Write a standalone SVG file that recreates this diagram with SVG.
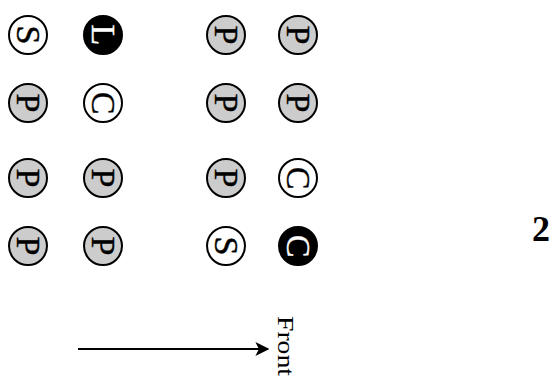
<svg xmlns="http://www.w3.org/2000/svg" width="557" height="378" viewBox="0 0 557 378">
<defs>
<marker id="ah" viewBox="0 0 10 10" refX="9" refY="5" markerWidth="7" markerHeight="7" orient="auto" markerUnits="strokeWidth">
<path d="M0,0 L10,5 L0,10 L2.5,5 z" fill="#000"/>
</marker>
</defs>
<style>
.c{stroke:#000;stroke-width:2}
.g{fill:#cccccc}.w{fill:#fff}.b{fill:#000}
.t{font-family:"Liberation Serif","DejaVu Serif",serif;font-size:34px;text-anchor:middle;dominant-baseline:central;stroke:#000;stroke-width:0.4}
.tw{fill:#fff;stroke:#fff}
.lbl{font-family:"Liberation Serif","DejaVu Serif",serif;font-size:23px}
.num{font-family:"Liberation Serif","DejaVu Serif",serif;font-size:36px;font-weight:bold;text-anchor:middle}
</style>
<rect width="557" height="378" fill="#fff"/>
<g id="r1c1"><circle class="c w" cx="28" cy="35" r="19"/><text class="t" transform="translate(28,35) rotate(90)">S</text></g>
<g id="r1c2"><circle class="c b" cx="103" cy="35" r="19"/><text class="t tw" transform="translate(103,35) rotate(90)">L</text></g>
<g id="r1c3"><circle class="c g" cx="226" cy="35" r="19"/><text class="t" transform="translate(226,35) rotate(90)">P</text></g>
<g id="r1c4"><circle class="c g" cx="298" cy="35" r="19"/><text class="t" transform="translate(298,35) rotate(90)">P</text></g>

<g id="r2c1"><circle class="c g" cx="28" cy="103" r="19"/><text class="t" transform="translate(28,103) rotate(90)">P</text></g>
<g id="r2c2"><circle class="c w" cx="103" cy="103" r="19"/><text class="t" transform="translate(103,103) rotate(90)">C</text></g>
<g id="r2c3"><circle class="c g" cx="226" cy="103" r="19"/><text class="t" transform="translate(226,103) rotate(90)">P</text></g>
<g id="r2c4"><circle class="c g" cx="298" cy="103" r="19"/><text class="t" transform="translate(298,103) rotate(90)">P</text></g>

<g id="r3c1"><circle class="c g" cx="28" cy="178" r="19"/><text class="t" transform="translate(28,178) rotate(90)">P</text></g>
<g id="r3c2"><circle class="c g" cx="103" cy="178" r="19"/><text class="t" transform="translate(103,178) rotate(90)">P</text></g>
<g id="r3c3"><circle class="c g" cx="226" cy="178" r="19"/><text class="t" transform="translate(226,178) rotate(90)">P</text></g>
<g id="r3c4"><circle class="c w" cx="298" cy="178" r="19"/><text class="t" transform="translate(298,178) rotate(90)">C</text></g>

<g id="r4c1"><circle class="c g" cx="28" cy="246" r="19"/><text class="t" transform="translate(28,246) rotate(90)">P</text></g>
<g id="r4c2"><circle class="c g" cx="103" cy="246" r="19"/><text class="t" transform="translate(103,246) rotate(90)">P</text></g>
<g id="r4c3"><circle class="c w" cx="226" cy="246" r="19"/><text class="t" transform="translate(226,246) rotate(90)">S</text></g>
<g id="r4c4"><circle class="c b" cx="298" cy="246" r="19"/><text class="t tw" transform="translate(298,246) rotate(90)">C</text></g>

<g id="connectors">
<line x1="78" y1="349" x2="268" y2="349" stroke="#000" stroke-width="2" marker-end="url(#ah)"/>
</g>
<text class="lbl" transform="translate(278,316) rotate(90)" textLength="60" lengthAdjust="spacingAndGlyphs">Front</text>
<text class="num" x="541" y="241">2</text>
</svg>
